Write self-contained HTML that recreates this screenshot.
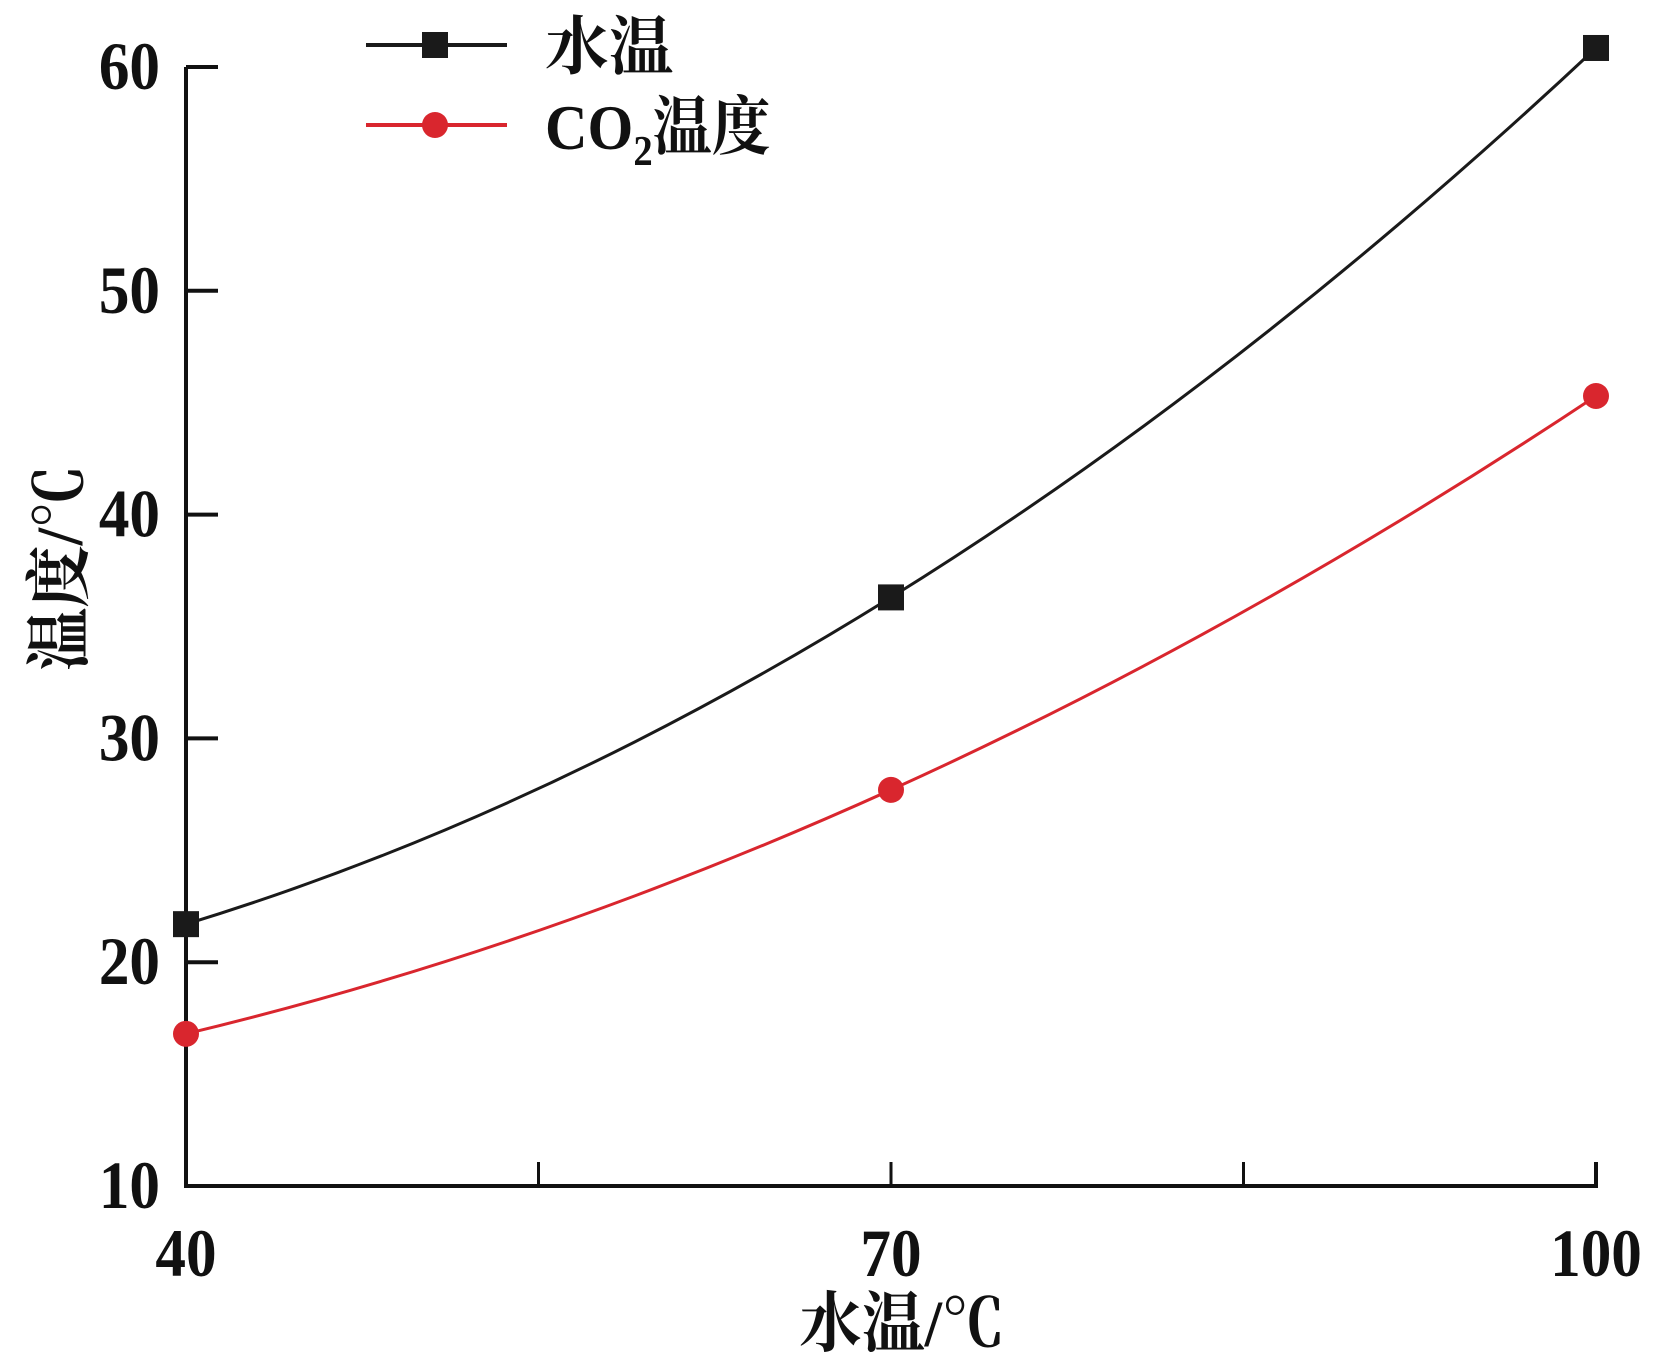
<!DOCTYPE html>
<html><head><meta charset="utf-8"><style>
html,body{margin:0;padding:0;background:#fff;}
svg{display:block;}
text{font-family:"Liberation Serif","Noto Serif CJK SC",serif;font-weight:bold;fill:#111;}
</style></head><body>
<svg id="chart" width="1656" height="1360" viewBox="0 0 1656 1360"></svg>
<script>
const categories=[40,70,100];
const waterTemp=[21.7,36.3,60.85];
const co2Temp=[16.8,27.7,45.3];
const yTicks=[10,20,30,40,50,60];
const xTickLabels=[40,70,100];
const xMinor=[55,85];

const NS="http://www.w3.org/2000/svg";
const svg=document.getElementById('chart');
const X0=186,X1=1596,Y0=1186,Y1=67;
function xs(v){return X0+(v-40)/60*(X1-X0);}
function ys(v){return Y0-(v-10)/50*(Y0-Y1);}
function mk(tag,attrs,parent){const e=document.createElementNS(NS,tag);for(const k in attrs)e.setAttribute(k,attrs[k]);(parent||svg).appendChild(e);return e;}

const ax=mk('path',{d:`M${X0},${Y1} V${Y0} H${X1} V${Y0-24}`,fill:'none',stroke:'#111','stroke-width':4});


yTicks.forEach(v=>{
  if(v>10){const t=mk('line',{x1:X0,x2:X0+32,y1:ys(v),y2:ys(v),stroke:'#111','stroke-width':4});
  
  }
  const l=mk('text',{x:0,y:0,'font-size':68,'text-anchor':'end',transform:`translate(160,${ys(v)+22}) scale(0.9,1)`});
  l.textContent=v;
  
  
});
xMinor.concat(categories).forEach(v=>{
  const t=mk('line',{x1:xs(v),x2:xs(v),y1:Y0,y2:Y0-24,stroke:'#111','stroke-width':3});
  
  
});
xTickLabels.forEach(v=>{
  const l=mk('text',{x:0,y:0,'font-size':68,'text-anchor':'middle',transform:`translate(${xs(v)},${1276}) scale(0.9,1)`});
  l.textContent=v;
  
  
});
const xt=mk('text',{x:0,y:0,'font-size':66,'text-anchor':'middle',transform:`translate(902,1346) scale(0.95,1)`});
xt.textContent='水温/℃';


const yt=mk('text',{x:0,y:0,'font-size':66,'text-anchor':'middle',transform:`translate(82,568) rotate(-90) scale(0.95,1)`});
yt.textContent='温度/℃';



function smooth(vals){
  const p=categories.map((c,i)=>[xs(c),ys(vals[i])]);
  // tangents from parabola through the three points
  const [a,b,c]=p;
  const m=[];
  const d01=(b[1]-a[1])/(b[0]-a[0]), d12=(c[1]-b[1])/(c[0]-b[0]);
  const k=(d12-d01)/(c[0]-a[0]);
  p.forEach(q=>{m.push(d01+k*((q[0]-a[0])+(q[0]-b[0])));});
  let d=`M${a[0]},${a[1]}`;
  for(let i=0;i<p.length-1;i++){
    const h=(p[i+1][0]-p[i][0])/3;
    d+=` C${p[i][0]+h},${p[i][1]+m[i]*h} ${p[i+1][0]-h},${p[i+1][1]-m[i+1]*h} ${p[i+1][0]},${p[i+1][1]}`;
  }
  return d;
}
const l1=mk('path',{d:smooth(waterTemp),fill:'none',stroke:'#1a1a1a','stroke-width':3});


const l2=mk('path',{d:smooth(co2Temp),fill:'none',stroke:'#d9262e','stroke-width':3});


categories.forEach((c,i)=>{
  const s=mk('rect',{x:xs(c)-13,y:ys(waterTemp[i])-13,width:26,height:26,fill:'#1a1a1a'});
  
  
  const r=mk('circle',{cx:xs(c),cy:ys(co2Temp[i]),r:13,fill:'#d9262e'});
  
  
});
const g=mk('g',{});


mk('line',{x1:366,x2:507,y1:45,y2:45,stroke:'#1a1a1a','stroke-width':4},g);
mk('rect',{x:422,y:32,width:26,height:26,fill:'#1a1a1a'},g);
const t1=mk('text',{x:0,y:0,'font-size':64,transform:'translate(545,69)'},g);
t1.textContent='水温';


mk('line',{x1:366,x2:507,y1:125,y2:125,stroke:'#d9262e','stroke-width':4},g);
mk('circle',{cx:435,cy:125,r:13,fill:'#d9262e'},g);
const t2=mk('text',{x:0,y:0,'font-size':64,transform:'translate(545,149) scale(0.92,1)'},g);
t2.innerHTML='CO<tspan font-size="42" dy="16">2</tspan><tspan dy="-16">温度</tspan>';


</script>
</body></html>
